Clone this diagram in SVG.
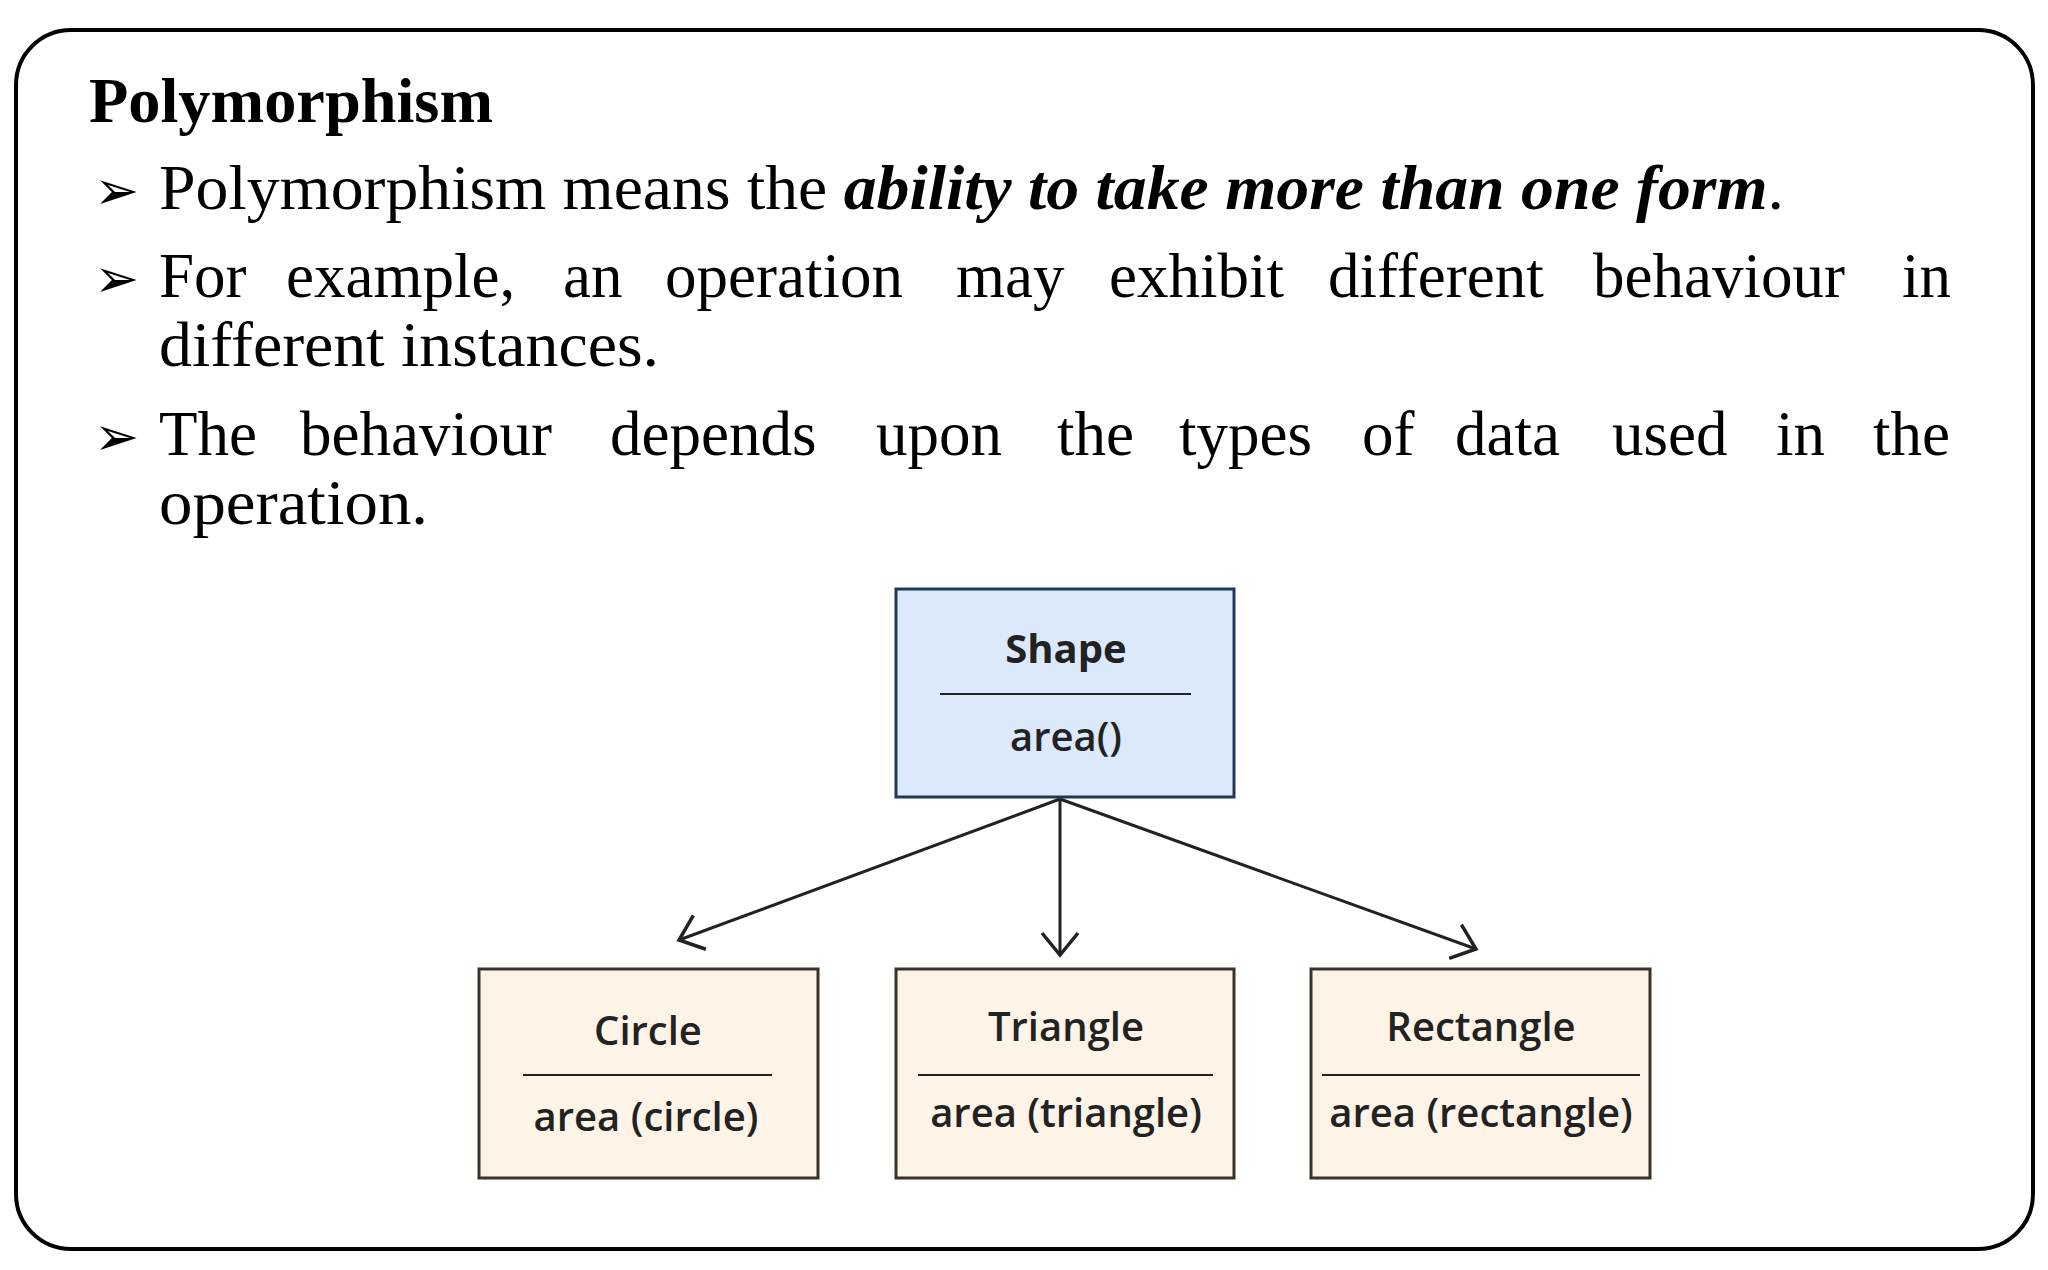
<svg xmlns="http://www.w3.org/2000/svg" width="2048" height="1270" viewBox="0 0 2048 1270">
<defs>
<style>
.t{font-family:"Liberation Serif","DejaVu Serif",serif;font-size:63px;fill:#000}
.b{font-family:"Open Sans","DejaVu Sans",sans-serif;font-size:40px;fill:#222;text-anchor:middle}
.c{fill:#fdf3e6;stroke:#3a3326;stroke-width:3}
.e{stroke:#222;stroke-width:3;fill:none}
</style>
<marker id="v" markerWidth="40" markerHeight="40" refX="36" refY="20" orient="auto" markerUnits="userSpaceOnUse"><path d="M14,2 L36,20 L14,38" fill="none" stroke="#222" stroke-width="3.5"/></marker>
</defs>
<rect x="16" y="30" width="2017" height="1219" rx="55" fill="#fff" stroke="#000" stroke-width="4"/>
<text x="89" y="122" class="t" font-weight="bold" font-size="56" textLength="404" lengthAdjust="spacingAndGlyphs">Polymorphism</text>
<g class="t">
<text x="94" y="209" font-size="54">➢</text><text x="159" y="209" textLength="1625" lengthAdjust="spacingAndGlyphs">Polymorphism means the <tspan font-weight="bold" font-style="italic">ability to take more than one form</tspan>.</text>
<text x="94" y="297" font-size="54">➢</text>
<text y="297"><tspan x="159">For</tspan><tspan x="286">example,</tspan><tspan x="563">an</tspan><tspan x="665">operation</tspan><tspan x="956">may</tspan><tspan x="1109">exhibit</tspan><tspan x="1328">different</tspan><tspan x="1593">behaviour</tspan><tspan x="1902">in</tspan></text>
<text x="159" y="366" textLength="500" lengthAdjust="spacingAndGlyphs">different instances.</text>
<text x="94" y="455" font-size="54">➢</text>
<text y="455"><tspan x="159">The</tspan><tspan x="300">behaviour</tspan><tspan x="610">depends</tspan><tspan x="876">upon</tspan><tspan x="1057">the</tspan><tspan x="1179">types</tspan><tspan x="1362">of</tspan><tspan x="1455">data</tspan><tspan x="1612">used</tspan><tspan x="1776">in</tspan><tspan x="1873">the</tspan></text>
<text x="159" y="524" textLength="269" lengthAdjust="spacingAndGlyphs">operation.</text>
</g>
<g id="connectors">
<line class="e" x1="1060" y1="799" x2="679" y2="940" marker-end="url(#v)"/>
<line class="e" x1="1060" y1="799" x2="1060" y2="955" marker-end="url(#v)"/>
<line class="e" x1="1060" y1="799" x2="1476" y2="949" marker-end="url(#v)"/>
</g>
<g id="shape">
<rect x="896" y="589" width="338" height="208" fill="#dce9fb" stroke="#203858" stroke-width="3"/>
<line x1="940" y1="694" x2="1191" y2="694" stroke="#222" stroke-width="2"/>
<text x="1066" y="663" class="b" font-weight="bold">Shape</text>
<text x="1066" y="751" class="b" font-weight="600">area()</text>
</g>
<g id="circle">
<rect class="c" x="479" y="969" width="339" height="209"/>
<line x1="523" y1="1075" x2="772" y2="1075" stroke="#222" stroke-width="2"/>
<text x="648" y="1045" class="b" font-weight="600">Circle</text>
<text x="646" y="1131" class="b" font-weight="600">area (circle)</text>
</g>
<g id="triangle">
<rect class="c" x="896" y="969" width="338" height="209"/>
<line x1="918" y1="1075" x2="1213" y2="1075" stroke="#222" stroke-width="2"/>
<text x="1066" y="1041" class="b" font-weight="600">Triangle</text>
<text x="1066" y="1127" class="b" font-weight="600">area (triangle)</text>
</g>
<g id="rectangle">
<rect class="c" x="1311" y="969" width="339" height="209"/>
<line x1="1322" y1="1075" x2="1640" y2="1075" stroke="#222" stroke-width="2"/>
<text x="1481" y="1041" class="b" font-weight="600">Rectangle</text>
<text x="1481" y="1127" class="b" font-weight="600">area (rectangle)</text>
</g>
</svg>
